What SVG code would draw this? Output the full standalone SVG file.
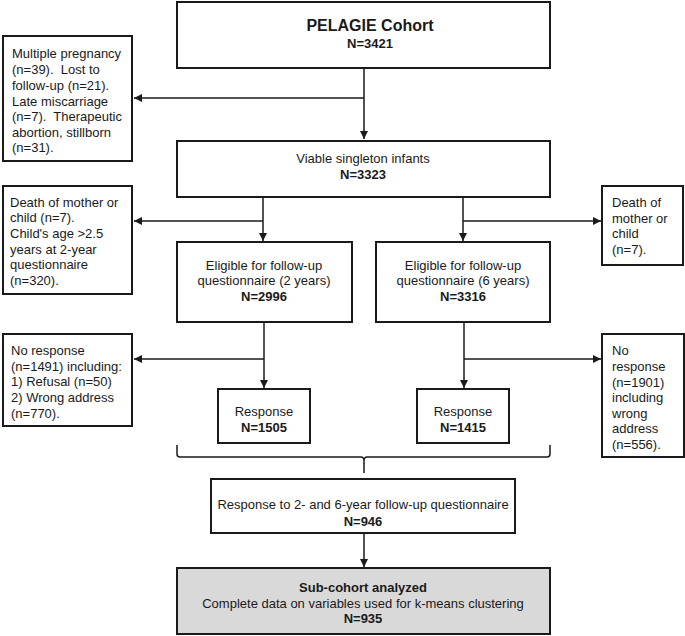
<svg xmlns="http://www.w3.org/2000/svg" width="685" height="636" viewBox="0 0 685 636">
<style>
.box{fill:#fff;stroke:#1a1a1a;stroke-width:2}
.grey{fill:#d9d9d9}
text{font-family:"Liberation Sans",Arial,sans-serif;font-size:13px;fill:#1a1a1a;white-space:pre}
.c{text-anchor:middle}
.b{font-weight:bold}
.ln{fill:none;stroke:#1a1a1a;stroke-width:1.5}
</style>
<defs>
<marker id="ah" viewBox="0 0 10 10" refX="10" refY="5" markerWidth="8" markerHeight="8" markerUnits="userSpaceOnUse" orient="auto">
<path d="M0,0 L10,5 L0,10 z" fill="#1a1a1a"/>
</marker>
</defs>
<g id="connectors">
<path class="ln" d="M364,68 V139" marker-end="url(#ah)"/>
<path class="ln" d="M364,98 H134" marker-end="url(#ah)"/>
<path class="ln" d="M263,197 V241" marker-end="url(#ah)"/>
<path class="ln" d="M263,221 H134" marker-end="url(#ah)"/>
<path class="ln" d="M463,197 V241" marker-end="url(#ah)"/>
<path class="ln" d="M463,221 H601" marker-end="url(#ah)"/>
<path class="ln" d="M264,322 V388" marker-end="url(#ah)"/>
<path class="ln" d="M264,359 H134" marker-end="url(#ah)"/>
<path class="ln" d="M464,322 V388" marker-end="url(#ah)"/>
<path class="ln" d="M464,359 H601" marker-end="url(#ah)"/>
<path class="ln" d="M177,445 V454 Q177,457 180,457 H361 Q364,457 364,461 V473 M364,461 Q364,457 367,457 H547 Q550,457 550,454 V445"/>
<path class="ln" d="M364,533 V567" marker-end="url(#ah)"/>
</g>
<g id="n_cohort">
<rect class="box" x="177" y="2" width="373" height="66"/>
<text class="c b" x="370" y="31" style="font-size:16px">PELAGIE Cohort</text>
<text class="c b" x="370" y="48">N=3421</text>
</g>
<g id="n_excl1">
<rect class="box" x="3" y="36" width="129" height="125"/>
<text x="12" y="58">Multiple pregnancy</text>
<text x="12" y="74">(n=39).  Lost to</text>
<text x="12" y="90">follow-up (n=21).</text>
<text x="12" y="106">Late miscarriage</text>
<text x="12" y="121">(n=7).  Therapeutic</text>
<text x="12" y="137">abortion, stillborn</text>
<text x="12" y="152">(n=31).</text>
</g>
<g id="n_viable">
<rect class="box" x="177" y="141" width="373" height="56"/>
<text class="c" x="363" y="163">Viable singleton infants</text>
<text class="c b" x="363" y="179">N=3323</text>
</g>
<g id="n_excl2">
<rect class="box" x="3" y="186" width="129" height="108"/>
<text x="10" y="207">Death of mother or</text>
<text x="10" y="222">child (n=7).</text>
<text x="10" y="238">Child's age &gt;2.5</text>
<text x="10" y="254">years at 2-year</text>
<text x="10" y="269">questionnaire</text>
<text x="10" y="285">(n=320).</text>
</g>
<g id="n_elig2">
<rect class="box" x="177" y="242" width="175" height="80"/>
<text class="c" x="264" y="270">Eligible for follow-up</text>
<text class="c" x="264" y="285">questionnaire (2 years)</text>
<text class="c b" x="264" y="301">N=2996</text>
</g>
<g id="n_elig6">
<rect class="box" x="376" y="242" width="174" height="80"/>
<text class="c" x="463" y="270">Eligible for follow-up</text>
<text class="c" x="463" y="285">questionnaire (6 years)</text>
<text class="c b" x="463" y="301">N=3316</text>
</g>
<g id="n_excl3">
<rect class="box" x="602" y="186" width="81" height="79"/>
<text x="612" y="207">Death of</text>
<text x="612" y="223">mother or</text>
<text x="612" y="238">child</text>
<text x="612" y="254">(n=7).</text>
</g>
<g id="n_nr2">
<rect class="box" x="3" y="334" width="129" height="92"/>
<text x="11" y="355">No response</text>
<text x="11" y="371">(n=1491) including:</text>
<text x="11" y="386">1) Refusal (n=50)</text>
<text x="11" y="402">2) Wrong address</text>
<text x="11" y="418">(n=770).</text>
</g>
<g id="n_resp2">
<rect class="box" x="218" y="389" width="92" height="54"/>
<text class="c" x="264" y="416">Response</text>
<text class="c b" x="264" y="432">N=1505</text>
</g>
<g id="n_resp6">
<rect class="box" x="417" y="389" width="92" height="54"/>
<text class="c" x="463" y="416">Response</text>
<text class="c b" x="463" y="432">N=1415</text>
</g>
<g id="n_nr6">
<rect class="box" x="602" y="334" width="82" height="123"/>
<text x="612" y="355">No</text>
<text x="612" y="371">response</text>
<text x="612" y="387">(n=1901)</text>
<text x="612" y="402">including</text>
<text x="612" y="418">wrong</text>
<text x="612" y="433">address</text>
<text x="612" y="449">(n=556).</text>
</g>
<g id="n_both">
<rect class="box" x="211" y="479" width="304" height="54"/>
<text class="c" x="363" y="509">Response to 2- and 6-year follow-up questionnaire</text>
<text class="c b" x="363" y="526">N=946</text>
</g>
<g id="n_sub">
<rect class="box grey" x="177" y="568" width="373" height="66"/>
<text class="c b" x="363" y="592">Sub-cohort analyzed</text>
<text class="c" x="363" y="608">Complete data on variables used for k-means clustering</text>
<text class="c b" x="363" y="623">N=935</text>
</g>
</svg>
